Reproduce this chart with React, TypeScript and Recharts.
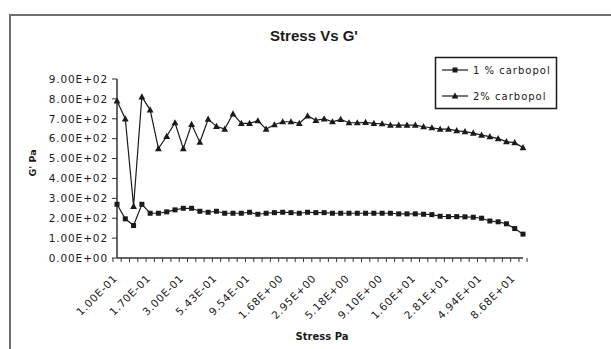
import { LineChart, Line, XAxis, YAxis } from "recharts";

// stress (Pa), log spaced; every 4th one is labelled on the axis
const STRESS = [
  0.1, 0.114, 0.13, 0.149, 0.17, 0.196, 0.226, 0.26, 0.3, 0.348,
  0.404, 0.468, 0.543, 0.624, 0.718, 0.828, 0.954, 1.1, 1.26, 1.46,
  1.68, 1.93, 2.22, 2.56, 2.95, 3.39, 3.91, 4.5, 5.18, 5.96,
  6.87, 7.91, 9.1, 10.5, 12.1, 13.9, 16.0, 18.4, 21.2, 24.4,
  28.1, 32.4, 37.2, 42.9, 49.4, 56.9, 65.5, 75.4, 86.8, 99.9,
];

// G' (Pa)
const G_1PCT = [
  270, 197, 163, 270, 225, 225, 232, 242, 250, 250,
  235, 230, 235, 225, 225, 225, 230, 220, 225, 228,
  230, 228, 225, 230, 228, 228, 225, 225, 225, 225,
  225, 225, 225, 225, 222, 222, 222, 220, 218, 210,
  208, 208, 207, 205, 200, 186, 182, 172, 148, 120,
];
const G_2PCT = [
  790, 700, 260, 810, 745, 550, 612, 680, 550, 672,
  582, 698, 662, 648, 725, 677, 677, 690, 648, 670,
  685, 685, 677, 715, 692, 700, 685, 697, 680, 680,
  682, 677, 675, 668, 668, 668, 668, 660, 655, 648,
  648, 640, 635, 628, 618, 610, 600, 585, 580, 555,
];

const Y_TICKS = [0, 100, 200, 300, 400, 500, 600, 700, 800, 900];
const LABEL_EVERY = 4;

const SERIES_NAMES = ["1 % carbopol", "2% carbopol"];

const data = STRESS.map((s, i) => ({ stress: s, g1: G_1PCT[i], g2: G_2PCT[i] }));

const W = 611;
const H = 349;
const PLOT_L = 117;
const PLOT_R = 523;
const PLOT_T = 79;
const PLOT_B = 258;
const STEP = (PLOT_R - PLOT_L) / STRESS.length;

const FONT = "'DejaVu Sans', Verdana, sans-serif";
const ARIAL = "'Liberation Sans', Arial, sans-serif";
const INK = "#1a1a1a";

function fmtE(v: number) {
  const [m, e] = v.toExponential(2).split("e");
  const n = parseInt(e, 10);
  return `${m}E${n < 0 ? "-" : "+"}${String(Math.abs(n)).padStart(2, "0")}`;
}

function XTick(props: any) {
  const { x, y, payload, index } = props;
  const bx = x - STEP / 2;
  const lx = x + 1;
  const ly = y + 21;
  return (
    <g>
      <line x1={bx} x2={bx} y1={y} y2={y + 4} stroke="#333" strokeWidth={1} />
      {index === STRESS.length - 1 && (
        <line x1={x + STEP / 2} x2={x + STEP / 2} y1={y} y2={y + 4} stroke="#333" strokeWidth={1} />
      )}
      {index % LABEL_EVERY === 0 && (
        <text
          x={lx}
          y={ly}
          textAnchor="end"
          transform={`rotate(-45 ${lx} ${ly})`}
          fontFamily={FONT}
          fontSize={10.5}
          letterSpacing={0.7}
          fill={INK}
        >
          {fmtE(payload.value)}
        </text>
      )}
    </g>
  );
}

function squareDot(p: any) {
  return <rect key={`s${p.index}`} x={p.cx - 2.5} y={p.cy - 2.5} width={5} height={5} fill={INK} />;
}

function triangleDot(p: any) {
  const { cx, cy } = p;
  return (
    <path key={`t${p.index}`} d={`M${cx},${cy - 3.6} L${cx + 3.4},${cy + 2.6} L${cx - 3.4},${cy + 2.6} Z`} fill={INK} />
  );
}

export default function App() {
  return (
    <div style={{ position: "fixed", left: 0, top: 0, width: W, height: H, background: "#fff" }}>
      <div style={{ position: "absolute", left: 0, top: 0 }}>
        <LineChart
          width={W}
          height={H}
          data={data}
          margin={{ top: PLOT_T, right: W - PLOT_R, bottom: 0, left: 0 }}
        >
          <XAxis
            dataKey="stress"
            type="category"
            height={H - PLOT_B}
            interval={0}
            tickLine={false}
            tickSize={0}
            tickMargin={0}
            axisLine={{ stroke: "#333", strokeWidth: 1.5 }}
            tick={<XTick />}
          />
          <YAxis
            type="number"
            width={PLOT_L}
            domain={[0, 900]}
            ticks={Y_TICKS}
            tickFormatter={fmtE}
            tickSize={5}
            tickMargin={4}
            axisLine={{ stroke: "#333", strokeWidth: 1.5 }}
            tickLine={{ stroke: "#333" }}
            tick={{ fontSize: 10.5, fontFamily: FONT, fill: INK, letterSpacing: 0.9 }}
          />
          <Line
            dataKey="g1"
            name={SERIES_NAMES[0]}
            stroke={INK}
            strokeWidth={1.2}
            dot={squareDot}
            isAnimationActive={false}
          />
          <Line
            dataKey="g2"
            name={SERIES_NAMES[1]}
            stroke={INK}
            strokeWidth={1.2}
            dot={triangleDot}
            isAnimationActive={false}
          />
        </LineChart>
      </div>
      <svg width={W} height={H} style={{ position: "absolute", left: 0, top: 0, pointerEvents: "none" }}>
        {/* chart area frame, only top and left edges are inside the picture */}
        <path d={`M10,${H} L10,15 L${W},15`} fill="none" stroke="#6e6e6e" strokeWidth={2} />
        <text x={314} y={41} textAnchor="middle" fontFamily={ARIAL} fontWeight="bold" fontSize={15} fill={INK}>
          Stress Vs G'
        </text>
        <text
          x={36}
          y={163}
          transform="rotate(-90 36 163)"
          textAnchor="middle"
          fontFamily={FONT}
          fontWeight="bold"
          fontSize={9.5}
          fill={INK}
        >
          G' Pa
        </text>
        <text x={322} y={340} textAnchor="middle" fontFamily={FONT} fontWeight="bold" fontSize={10} fill={INK}>
          Stress Pa
        </text>
        {/* legend */}
        <rect x={435.5} y={57.5} width={121} height={51} fill="#fff" stroke={INK} strokeWidth={1.5} />
        <line x1={442} x2={468} y1={70} y2={70} stroke={INK} strokeWidth={1.2} />
        <rect x={452.5} y={67.5} width={5} height={5} fill={INK} />
        <text x={473} y={74} fontFamily={FONT} fontSize={10} letterSpacing={1} fill={INK}>
          {SERIES_NAMES[0]}
        </text>
        <line x1={442} x2={468} y1={96} y2={96} stroke={INK} strokeWidth={1.2} />
        <path d="M455,92.4 L458.4,98.6 L451.6,98.6 Z" fill={INK} />
        <text x={473} y={100} fontFamily={FONT} fontSize={10} letterSpacing={1} fill={INK}>
          {SERIES_NAMES[1]}
        </text>
      </svg>
    </div>
  );
}
